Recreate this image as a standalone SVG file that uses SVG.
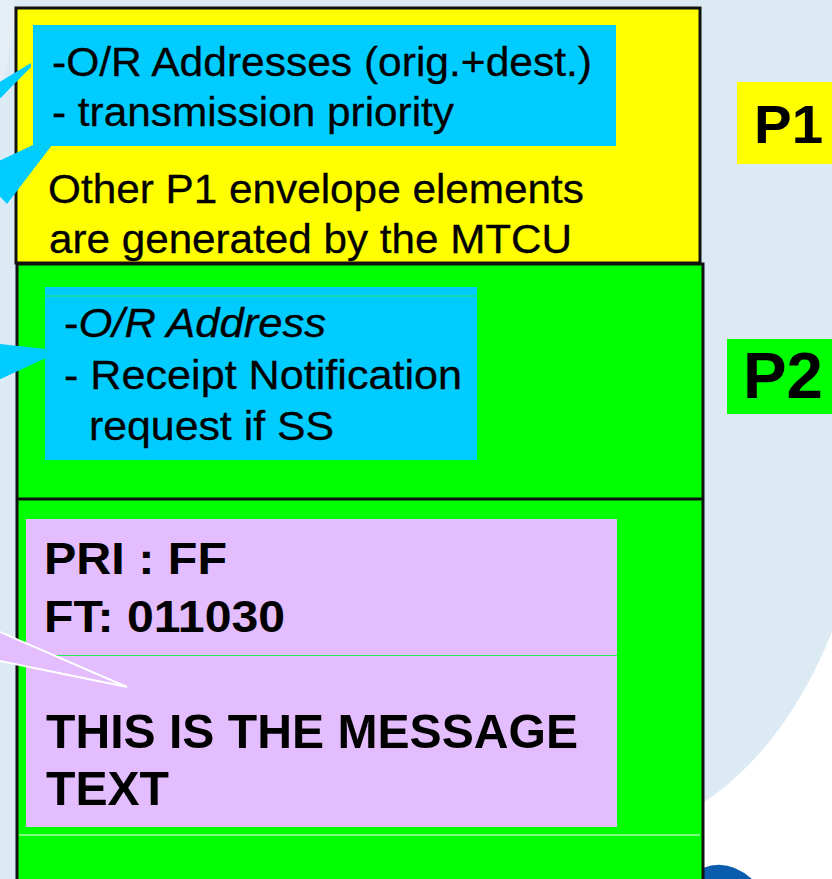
<svg xmlns="http://www.w3.org/2000/svg" width="832" height="879" viewBox="0 0 832 879">
<style>
.t{font-family:"Liberation Sans",Arial,Helvetica,sans-serif;fill:#000}
.r{stroke:#000;stroke-width:0.3}
.b{font-weight:bold}
.frame{stroke:#111;stroke-width:3;fill:none}
.cyan{fill:#00ccff}
.call{fill:#00ccff}
</style>
<g id="background">
<rect x="0" y="0" width="832" height="879" fill="#dceaf4"/>
<polygon points="0,0 14,0 14,30 0,95" fill="#e6eef5"/>
<path d="M832,632 Q785,748 703,803 L703,879 L832,879 Z" fill="#ffffff"/>
<path d="M703,879 L703,868 Q728,858 752,879 Z" fill="#0a5cad"/>
</g>
<g id="p1-envelope">
<rect x="16" y="8" width="684" height="255" fill="#ffff00"/>
<rect x="16" y="8" width="684" height="255" class="frame"/>
</g>
<g id="p2-content">
<rect x="17" y="264" width="686" height="630" fill="#00ff00"/>
<rect x="17" y="264" width="686" height="630" class="frame"/>
<line x1="17" y1="499" x2="703" y2="499" stroke="#111" stroke-width="3"/>
<line x1="19" y1="835" x2="700" y2="835" stroke="#ffffff" stroke-width="1"/>
</g>
<g id="p1-fields">
<rect x="33" y="25" width="583" height="121" class="cyan"/>
<text class="t r" x="52" y="76" font-size="41" textLength="540" lengthAdjust="spacingAndGlyphs">-O/R Addresses (orig.+dest.)</text>
<text class="t r" x="52" y="126" font-size="41" textLength="402" lengthAdjust="spacingAndGlyphs">- transmission priority</text>
</g>
<g id="p1-note">
<text class="t r" x="48" y="203" font-size="41" textLength="536" lengthAdjust="spacingAndGlyphs">Other P1 envelope elements</text>
<text class="t r" x="49" y="253" font-size="41" textLength="523" lengthAdjust="spacingAndGlyphs">are generated by the MTCU</text>
</g>
<g id="p2-fields">
<rect x="45" y="287" width="432" height="173" class="cyan"/>
<line x1="45" y1="296" x2="477" y2="296" stroke="#22ee55" stroke-width="1"/>
<text class="t r" x="64" y="337" font-size="41.5" textLength="262" lengthAdjust="spacingAndGlyphs">-<tspan font-style="italic">O/R Address</tspan></text>
<text class="t r" x="64" y="389" font-size="41.5" textLength="398" lengthAdjust="spacingAndGlyphs">- Receipt Notification</text>
<text class="t r" x="89" y="440" font-size="41.5" textLength="245" lengthAdjust="spacingAndGlyphs">request if SS</text>
</g>
<g id="message-text">
<rect x="26" y="519" width="591" height="308" fill="#e3bdfd"/>
<line x1="26" y1="655.5" x2="617" y2="655.5" stroke="#22ee55" stroke-width="1"/>
<text class="t b" x="44" y="574" font-size="44" textLength="183" lengthAdjust="spacingAndGlyphs">PRI : FF</text>
<text class="t b" x="44" y="632" font-size="44" textLength="241" lengthAdjust="spacingAndGlyphs">FT: 011030</text>
<text class="t b" x="46" y="748" font-size="48" textLength="532" lengthAdjust="spacingAndGlyphs">THIS IS THE MESSAGE</text>
<text class="t b" x="46" y="805" font-size="48" textLength="123" lengthAdjust="spacingAndGlyphs">TEXT</text>
</g>
<g id="label-p1">
<rect x="737" y="82" width="100" height="82" fill="#ffff00"/>
<text class="t b" x="754" y="143" font-size="53" textLength="69" lengthAdjust="spacingAndGlyphs">P1</text>
</g>
<g id="label-p2">
<rect x="727" y="339" width="110" height="75" fill="#00ff00"/>
<text class="t b" x="743" y="398" font-size="65" textLength="80" lengthAdjust="spacingAndGlyphs">P2</text>
</g>
<g id="connectors">
<polygon class="call" points="31,63 -20,94 -20,119 31,67"/>
<polygon class="call" points="52,145 33,145 -20,170 -20,175 7,204"/>
<polygon class="call" points="46,349 46,358 -10,384 -10,343"/>
<polygon points="-10,627.7 127,687 -10,659" fill="#e3bdfd" stroke="#ffffff" stroke-width="2" stroke-linejoin="miter"/>
</g>
</svg>
